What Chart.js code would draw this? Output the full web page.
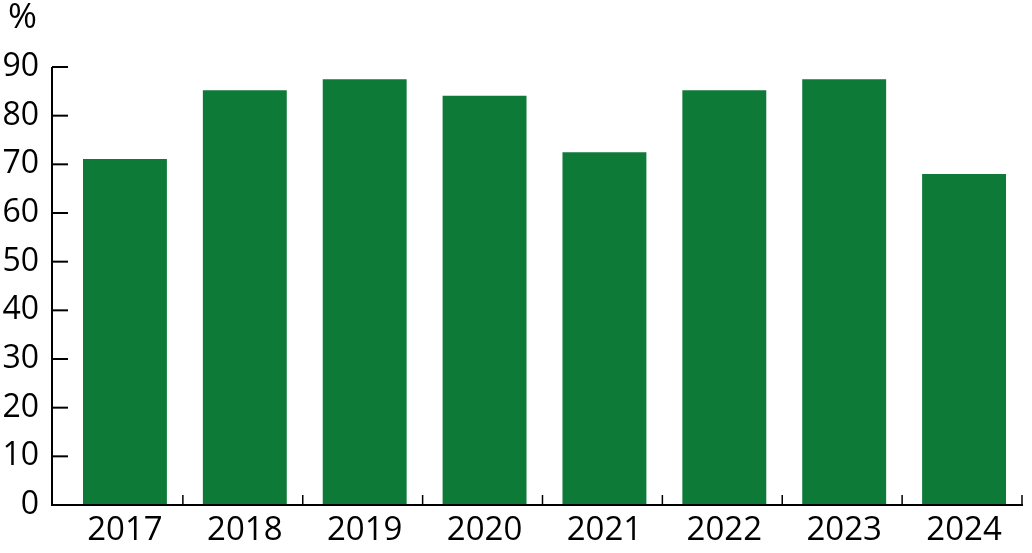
<!DOCTYPE html>
<html>
<head>
<meta charset="utf-8">
<script src="https://cdn.jsdelivr.net/npm/chart.js@4/dist/chart.umd.min.js"></script>
<style>
html,body{margin:0;padding:0;background:#fff;}
#wrap{width:1032px;height:553px;position:relative;}
</style>
</head>
<body>
<div id="wrap"><canvas id="c"></canvas></div>
<script>
const categories = ['2017','2018','2019','2020','2021','2022','2023','2024'];
const values = [71.1, 85.2, 87.5, 84.1, 72.5, 85.2, 87.5, 68.0];
const yTicks = [0,10,20,30,40,50,60,70,80,90];
const unitLabel = '%';

const FONT = '"Open Sans", "Noto Sans", sans-serif';

const axesPlugin = {
  id: 'customAxes',
  afterDraw(chart) {
    const ctx = chart.ctx;
    const x = chart.scales.x, y = chart.scales.y;
    const ca = chart.chartArea;
    const axisX = ca.left - 13;
    const y0 = y.getPixelForValue(0);
    const yTop = y.getPixelForValue(90);
    ctx.save();
    ctx.strokeStyle = '#000';
    ctx.lineWidth = 2;
    ctx.beginPath();
    ctx.moveTo(axisX, yTop);
    ctx.lineTo(axisX, y0 + 1);
    ctx.stroke();
    yTicks.forEach(v => {
      const py = y.getPixelForValue(v);
      ctx.beginPath();
      ctx.moveTo(axisX, py);
      ctx.lineTo(axisX + (v === 0 ? 25 : 16), py);
      ctx.stroke();
    });
    const n = categories.length;
    const step = (x.getPixelForValue(n - 1) - x.getPixelForValue(0)) / (n - 1);
    const lastB = x.getPixelForValue(n - 1) + step / 2 - 2;
    ctx.beginPath();
    ctx.moveTo(axisX, y0);
    ctx.lineTo(lastB + 1, y0);
    ctx.stroke();
    ctx.lineWidth = 1.5;
    for (let i = 0; i < n; i++) {
      const bx = x.getPixelForValue(i) + step / 2 - 2;
      ctx.beginPath();
      ctx.moveTo(bx, y0);
      ctx.lineTo(bx, y0 - 10);
      ctx.stroke();
    }
    ctx.fillStyle = '#000';
    ctx.font = '35px ' + FONT;
    ctx.textAlign = 'left';
    ctx.textBaseline = 'alphabetic';
    ctx.fillText(unitLabel, 8, 28);
    ctx.restore();
  }
};

new Chart(document.getElementById('c'), {
  type: 'bar',
  data: {
    labels: categories,
    datasets: [{
      data: values,
      backgroundColor: '#0e7a37',
      borderWidth: 0,
      categoryPercentage: 0.7,
      barPercentage: 1.0
    }]
  },
  options: {
    responsive: true,
    maintainAspectRatio: false,
    animation: false,
    layout: { padding: { top: 67, right: 8, left: 0, bottom: 0 } },
    plugins: { legend: { display: false }, tooltip: { enabled: false } },
    scales: {
      x: {
        grid: { display: false, drawTicks: false },
        border: { display: false },
        ticks: {
          color: '#000',
          font: { family: FONT, size: 33 },
          padding: 6,
          maxRotation: 0,
          autoSkip: false
        },
        afterFit(s) { s.height = 48; }
      },
      y: {
        min: 0, max: 90,
        grid: { display: false, drawTicks: false },
        border: { display: false },
        afterBuildTicks(s) { s.ticks = yTicks.map(v => ({ value: v })); },
        ticks: {
          color: '#000',
          font: { family: FONT, size: 32 },
          padding: 26
        },
        afterFit(s) { s.width = 65; }
      }
    }
  },
  plugins: [axesPlugin]
});
</script>
</body>
</html>
